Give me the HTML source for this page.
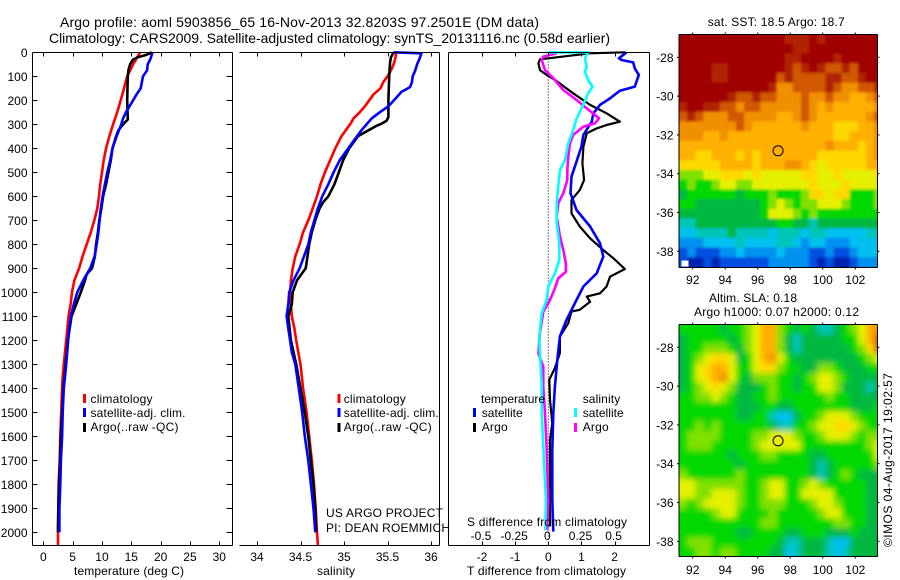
<!DOCTYPE html>
<html>
<head>
<meta charset="utf-8">
<title>Argo profile</title>
<style>
html,body{margin:0;padding:0;background:#fff;}
svg{display:block;font-family:"Liberation Sans",sans-serif;font-size:12px;fill:#000;}
</style>
</head>
<body>
<svg id="chart" width="900" height="580" viewBox="0 0 900 580" xmlns="http://www.w3.org/2000/svg">
  <defs>
    <filter id="soft-sst" filterUnits="userSpaceOnUse" x="640" y="0" width="260" height="300"><feGaussianBlur stdDeviation="1.3"/></filter>
    <filter id="soft-sla" filterUnits="userSpaceOnUse" x="640" y="290" width="260" height="290"><feGaussianBlur stdDeviation="3"/></filter>
  </defs>
  <rect x="0" y="0" width="900" height="580" fill="#fff"/>
  <text x="60" y="27" font-size="14" textLength="479">Argo profile: aoml 5903856_65 16-Nov-2013 32.8203S 97.2501E (DM data)</text>
  <text x="49" y="43" font-size="14" textLength="561">Climatology: CARS2009. Satellite-adjusted climatology: synTS_20131116.nc (0.58d earlier)</text>

  <g id="map1"></g>
  <g id="map2"></g>
  <g id="panel1"></g>
  <g id="panel2"></g>
  <g id="panel3"></g>

  <g>
    <rect x="83" y="394" width="3" height="9" fill="#f00"/>
    <text x="90.5" y="403" textLength="62">climatology</text>
    <rect x="83" y="408" width="3" height="9" fill="#00f"/>
    <text x="90.5" y="417" textLength="95">satellite-adj. clim.</text>
    <rect x="83" y="423" width="3" height="9" fill="#000"/>
    <text x="90.5" y="431" textLength="88">Argo(..raw -QC)</text>
  </g>
  <g>
    <rect x="337.5" y="394" width="3" height="9" fill="#f00"/>
    <text x="343.7" y="403" textLength="62">climatology</text>
    <rect x="337.5" y="408" width="3" height="9" fill="#00f"/>
    <text x="343.7" y="417" textLength="95">satellite-adj. clim.</text>
    <rect x="337.5" y="423" width="3" height="9" fill="#000"/>
    <text x="343.7" y="431" textLength="88">Argo(..raw -QC)</text>
  </g>
  <text x="326" y="517" textLength="117">US ARGO PROJECT</text>
  <text x="326" y="532" textLength="124">PI: DEAN ROEMMICH</text>

  <g>
    <text x="481" y="403" textLength="64">temperature</text>
    <rect x="473" y="408" width="3" height="9" fill="#00f"/>
    <text x="481.7" y="417" textLength="41">satellite</text>
    <rect x="473" y="423" width="3" height="9" fill="#000"/>
    <text x="481.7" y="431" textLength="26">Argo</text>
    <text x="582.7" y="403" textLength="37.5">salinity</text>
    <rect x="574" y="408" width="3" height="9" fill="#0ff"/>
    <text x="582.7" y="417" textLength="41">satellite</text>
    <rect x="574" y="423" width="3" height="9" fill="#f0f"/>
    <text x="582.7" y="431" textLength="26">Argo</text>
  </g>

  <text x="74" y="575" textLength="110">temperature (deg C)</text>
  <text x="317" y="575" textLength="38">salinity</text>
  <text x="467" y="575" textLength="159">T difference from climatology</text>
  <text x="467" y="526" textLength="160">S difference from climatology</text>

  <text x="707.7" y="26" textLength="137">sat. SST: 18.5 Argo: 18.7</text>
  <text x="709" y="302" textLength="88">Altim. SLA: 0.18</text>
  <text x="694" y="316" textLength="165">Argo h1000: 0.07 h2000: 0.12</text>
  <text transform="translate(892,547) rotate(-90)" x="0" y="0" textLength="174">©IMOS 04-Aug-2017 19:02:57</text>
</svg>
<script>
// ---------- chart data ----------
const depthTicks = [0,100,200,300,400,500,600,700,800,900,1000,1100,1200,1300,1400,1500,1600,1700,1800,1900,2000];
const tempTicks = [0,5,10,15,20,25,30];
const salTicks = [34,34.5,35,35.5,36];
const salTickLabels = ['34','34.5','35','35.5','36'];
const tDiffTicks = [-2,-1,0,1,2];
const sDiffTicks = [-0.5,-0.25,0,0.25,0.5];
const sDiffTickLabels = ['-0.5','-0.25','0','0.25','0.5'];
const lonTicks = [92,94,96,98,100,102];
const latTicks = [-28,-30,-32,-34,-36,-38];

const tempClimDepth = [0,50,100,150,200,250,300,350,400,450,500,550,600,650,700,750,800,850,900,950,1000,1050,1100,1150,1200,1250,1300,1350,1400,1500,1600,1700,1800,1900,2000,2054];
const tempClim = [16.5,15.3,14.3,13.75,13.2,12.6,11.9,11.25,10.7,10.3,10,9.7,9.5,9.2,8.7,8.1,7.4,6.7,6.1,5.3,4.9,4.65,4.3,4.1,3.9,3.7,3.5,3.3,3.2,3.05,2.9,2.8,2.6,2.55,2.5,2.5];
const tempSatDepth = [0,25,50,75,100,150,175,200,225,250,275,300,350,400,450,500,550,600,650,700,750,800,850,900,950,1000,1050,1100,1150,1200,1300,1400,1500,1600,1700,1800,1900,2000];
const tempSat = [18.6,18.3,17.8,17.7,17,16.6,15.9,15.3,14.7,14.1,13.6,13.3,12.5,11.8,11.4,10.9,10.5,10.1,9.8,9.6,9.4,9.1,8.75,8,6.8,5.8,5.2,4.7,4.4,4.25,3.9,3.5,3.3,3.2,3,2.9,2.75,2.75];
const tempArgoDepth = [0,10,20,30,50,75,100,200,280,300,325,350,400,450,500,550,600,650,700,750,800,850,900,925,950,1000,1050,1100,1200,1300,1400,1500,1600,1700,1800,1900,2000];
const tempArgo = [18.5,17.6,16.2,15.3,14.8,14.5,14.4,14.3,14.4,13.6,12.8,12.4,11.8,11.5,11.1,10.7,10.2,9.9,9.55,9.3,9,8.8,8.3,7.4,7.1,6.4,5.6,4.8,4.2,3.8,3.4,3.2,3,2.85,2.7,2.55,2.5];

const salClimDepth = [0,25,50,75,100,125,150,175,200,225,250,275,300,350,400,450,500,550,600,650,700,750,800,850,900,950,1000,1050,1100,1150,1200,1250,1300,1400,1500,1600,1700,1800,1900,2000,2054];
const salClim = [35.6,35.59,35.57,35.54,35.5,35.45,35.42,35.34,35.29,35.24,35.18,35.11,35.07,34.97,34.9,34.84,34.78,34.73,34.69,34.64,34.59,34.53,34.49,34.44,34.41,34.39,34.38,34.39,34.4,34.43,34.45,34.475,34.5,34.53,34.57,34.6,34.63,34.655,34.675,34.69,34.7];
const salSatDepth = [0,4,25,50,75,100,125,145,165,190,225,250,275,325,350,400,450,500,550,600,650,700,750,800,850,900,950,1000,1050,1100,1150,1200,1250,1300,1400,1500,1600,1700,1800,1900,2000];
const salSat = [35.57,35.89,35.87,35.84,35.82,35.79,35.78,35.76,35.66,35.6,35.51,35.41,35.32,35.2,35.15,35.05,34.95,34.88,34.82,34.75,34.7,34.66,34.62,34.59,34.54,34.49,34.42,34.37,34.36,34.34,34.36,34.38,34.4,34.44,34.48,34.52,34.55,34.59,34.62,34.65,34.67];
const salArgoDepth = [0,20,40,100,200,270,285,298,305,325,350,400,450,500,550,600,625,650,700,750,800,850,900,925,950,1000,1050,1100,1200,1300,1400,1500,1600,1700,1800,1900,2000];
const salArgo = [35.57,35.54,35.53,35.52,35.51,35.51,35.49,35.43,35.38,35.28,35.16,35.06,34.99,34.94,34.89,34.82,34.76,34.72,34.67,34.63,34.6,34.58,34.56,34.51,34.46,34.41,34.4,34.36,34.39,34.45,34.5,34.55,34.59,34.62,34.65,34.67,34.68];

const tDiffArgoDepth = [0,4,29,46,74,94,115,171,219,254,289,303,317,337,393,462,532,574,615,671,726,775,824,858,903,935,976,1004,1018,1039,1073,1080,1129,1184,1253,1316,1364,1448,1545,1615,1976];
const tDiffArgo = [2.31,1.26,-0.25,-0.3,-0.25,-0.05,0.2,0.75,1.26,1.76,2.16,1.76,1.46,1.16,1.06,1.03,1.08,0.95,0.7,0.7,0.95,1.26,1.66,1.96,2.31,1.86,1.76,1.56,1.16,1.26,0.95,0.7,0.6,0.35,0.35,0.2,0.03,0.05,0.12,0.05,0.05];
const tDiffSatDepth = [0,25,32,42,67,94,143,160,192,219,254,289,344,393,456,518,587,657,726,796,851,921,976,1032,1115,1184,1282,1393,1504,1657,1865,1997];
const tDiffSat = [2.36,2.13,2.21,2.56,2.61,2.73,2.61,2.16,1.86,1.56,1.36,1.31,1.06,1,0.85,0.7,0.67,0.85,1.26,1.56,1.66,1.46,1.06,0.85,0.55,0.35,0.27,0.2,0.15,0.12,0.12,0.15];
const sDiffSatDepth = [0,1,25,60,81,115,143,171,219,275,324,379,449,490,560,629,712,796,865,921,976,1032,1088,1184,1254,1379,1504,1643,1865,1990];
const sDiffSat = [0,0.3,0.276,0.289,0.276,0.3,0.334,0.3,0.264,0.214,0.188,0.151,0.126,0.088,0.075,0.063,0.063,0.083,0.083,0.05,0,-0.013,-0.05,-0.068,-0.063,-0.05,-0.05,-0.038,-0.018,-0.023];
const sDiffArgoDepth = [4,18,32,74,108,157,199,233,275,296,310,344,379,435,490,532,587,629,685,768,824,879,914,942,983,1032,1081,1171,1254,1310,1393,1504,1643,1865,1990];
const sDiffArgo = [0.063,-0.038,-0.05,-0.025,0.038,0.113,0.214,0.289,0.382,0.352,0.264,0.188,0.163,0.151,0.143,0.143,0.113,0.075,0.063,0.088,0.113,0.133,0.133,0.075,0.05,0.013,-0.038,-0.063,-0.075,-0.038,-0.038,-0.025,-0.013,0,-0.008];

const profileLon = [97.25];
const profileLat = [-32.82];

// map cell values: rows north to south, columns west to east, half degree cells
const sstGrid = [
[14,14,14,14,14,14,14,14,14,14,14,14,14,13,13,13,14,13,14,14,14,14,14,14,14],
[14,14,14,14,14,14,14,14,14,14,14,14,14,14,13,13,14,14,14,14,14,14,14,14,14],
[14,14,14,14,14,14,14,14,14,14,14,14,14,13,13,14,14,14,14,13,14,14,14,14,14],
[14,14,14,14,13,13,14,14,14,14,14,14,14,13,12,13,14,13,12,12,13,12,14,14,14],
[14,14,14,14,13,13,14,14,14,14,14,14,12,13,12,12,12,12,13,13,12,12,13,14,14],
[14,14,14,14,14,14,14,14,14,14,14,13,11,11,12,12,12,12,13,12,11,11,12,12,13],
[14,14,14,14,14,14,13,12,12,13,12,12,11,11,11,12,11,11,12,11,11,10,10,11,12],
[13,14,14,13,13,12,12,11,12,12,11,11,11,11,11,12,11,10,11,10,10,10,10,10,11],
[12,13,12,11,11,11,12,12,11,11,11,11,10,10,11,12,11,10,10,10,10,10,10,11,12],
[11,11,11,11,11,11,11,12,11,10,10,10,10,10,10,11,10,10,10,9,9,9,10,10,11],
[11,11,11,10,10,11,10,10,10,10,10,10,10,10,10,10,10,10,10,9,9,10,10,10,11],
[10,10,10,10,10,10,10,10,10,10,10,10,10,10,10,10,10,10,11,10,10,10,9,10,11],
[10,10,9,9,10,10,10,9,10,9,10,10,10,10,10,10,10,9,9,9,9,9,9,10,11],
[9,9,9,9,9,10,10,10,10,9,10,10,10,11,11,10,9,8,9,9,9,9,9,10,10],
[7,7,7,8,8,9,9,9,8,9,8,8,8,8,8,9,9,8,8,9,8,8,8,8,9],
[6,7,6,6,7,8,8,7,7,8,8,8,8,8,8,8,9,8,8,8,9,8,8,8,8],
[5,6,6,6,6,6,6,5,6,6,6,7,6,6,6,7,9,9,8,9,9,6,6,6,7],
[6,6,5,5,5,5,5,5,5,5,6,7,8,7,6,7,7,8,8,8,7,6,6,6,7],
[5,5,5,5,5,5,5,5,5,5,6,8,8,8,7,6,7,6,6,6,6,6,6,6,6],
[4,4,5,5,5,5,5,5,5,5,5,5,6,6,5,5,4,5,5,5,5,5,5,5,5],
[3,3,4,4,4,4,5,4,4,4,4,3,4,4,4,3,4,4,3,3,3,3,3,4,4],
[2,2,2,3,3,3,3,4,3,3,3,3,4,4,3,2,3,3,2,2,2,3,3,3,3],
[1,2,1,1,1,2,2,3,2,2,2,2,3,2,2,2,1,1,2,1,1,2,3,3,3],
[1,0,0,1,0,1,1,1,1,1,1,2,2,2,2,2,1,0,1,0,0,1,2,2,2]
];
const slaGrid = [
[6,6,6,6,6,5,6,6,7,8,10,10,7,6,5,6,5,4,4,5,6,7,8,10,11],
[5,6,6,6,6,6,5,6,7,8,10,10,7,5,4,5,5,5,5,5,6,6,8,10,12],
[5,6,6,7,7,7,6,5,7,8,10,10,7,5,4,5,5,5,5,5,5,6,7,9,12],
[5,6,7,8,9,9,8,5,6,8,10,11,8,6,5,5,5,5,5,5,5,5,6,7,8],
[5,6,8,9,10,10,8,6,6,8,9,9,7,6,6,5,5,7,7,6,5,5,5,6,6],
[5,6,8,9,10,11,8,6,5,7,7,7,6,6,5,6,7,8,8,7,6,5,5,5,5],
[5,6,7,8,9,8,7,5,5,5,6,7,6,6,5,6,6,8,8,7,5,5,5,4,5],
[6,6,7,7,8,7,6,5,5,6,6,7,6,6,6,6,6,6,7,6,6,5,5,5,5],
[6,6,6,6,6,6,6,5,5,5,6,6,5,5,6,6,6,6,6,6,6,5,5,5,6],
[6,6,6,6,6,6,6,5,5,6,6,4,3,3,5,6,6,7,8,8,8,7,6,6,6],
[6,6,7,6,7,6,6,6,6,6,6,5,4,4,6,6,7,8,8,9,9,8,7,6,6],
[6,7,7,7,7,6,6,6,6,7,7,8,8,8,7,6,6,7,8,8,8,7,6,7,7],
[6,7,7,7,6,6,6,6,6,7,8,8,8,8,8,6,6,6,6,6,6,6,6,7,8],
[6,6,6,6,6,6,5,6,6,6,7,7,6,6,6,6,5,5,6,6,6,6,6,6,8],
[6,6,6,6,6,6,6,5,6,6,6,6,6,6,6,6,5,4,5,6,6,6,6,6,7],
[7,6,6,6,6,6,6,7,6,6,6,6,6,6,6,6,5,4,5,6,7,6,5,5,5],
[8,8,7,7,7,7,7,7,6,6,7,8,8,6,6,7,8,7,6,6,6,6,6,5,5],
[8,8,7,7,8,8,8,7,6,6,7,8,8,6,6,8,8,8,8,6,6,6,6,5,5],
[7,6,7,8,8,8,8,7,6,6,7,7,7,6,6,6,7,8,8,7,6,6,6,5,5],
[6,6,6,6,7,8,8,6,6,6,6,7,6,6,6,6,6,7,8,8,6,6,6,5,5],
[6,6,6,6,6,6,6,6,6,6,7,7,6,6,6,6,6,6,6,7,7,6,6,5,5],
[6,6,6,6,6,6,6,5,5,6,6,6,6,5,5,6,6,6,5,5,5,6,5,5,5],
[6,7,7,7,6,6,6,6,6,6,6,6,5,4,4,5,5,5,4,3,3,5,5,5,5],
[6,6,7,7,6,7,7,6,6,6,6,5,5,3,4,5,5,5,4,3,4,5,5,5,5]
];
const levelColors = ['#0020b0','#0050e0','#0090f0','#00c0f0','#00c4b8','#00b840','#00d800','#80e000','#e4f000','#ffd800','#ffb000','#f09000','#d05800','#b02000','#a00000'];

// ---------- axis functions ----------
const depthY = d => 52.3 + d * 0.24;
const tempX = t => 43.3 + t * 5.867;
const salX = s => 257 + (s - 34) * 87;
const tDiffX = t => 548.3 + t * 33.15;
const sDiffX = s => 548.3 + s * 132.6;
const lonX = lon => 692.7 + (lon - 92) * 16.26;
const map1LatY = lat => 57.3 + (-28 - lat) * 19.4;
const map2LatY = lat => 347.3 + (-28 - lat) * 19.4;

const NS = 'http://www.w3.org/2000/svg';
function make(tag, parent, props) {
  const el = document.createElementNS(NS, tag);
  for (const k in props) el.setAttribute(k, props[k]);
  parent.appendChild(el);
  return el;
}
function seg(parent, x1, y1, x2, y2) {
  return make('line', parent, {x1, y1, x2, y2, stroke: '#000', 'stroke-width': 1});
}
function drawLine(parent, depths, values, xFn, color, width, name) {
  const pts = values.map((v, i) => xFn(v).toFixed(1) + ',' + depthY(depths[i]).toFixed(1)).join(' ');
  const el = make('polyline', parent, {points: pts, fill: 'none', stroke: color, 'stroke-width': width, 'stroke-linejoin': 'round'});
  
  
}
function drawFrame(parent, l, t, r, b, hasLeft) {
  const edges = [[l, t, r, t, 'top'], [l, b, r, b, 'bottom'], [r, t, r, b, 'right']];
  if (hasLeft) edges.push([l, t, l, b, 'left']);
  edges.forEach(e => {
    const el = seg(parent, e[0], e[1], e[2], e[3]);
    
    
  });
}
function drawXTicks(parent, ticks, labels, xFn, t, b, labelY, name) {
  ticks.forEach((v, i) => {
    const x = Math.round(xFn(v)) + 0.5;
    const a = seg(parent, x, t, x, t + 4);
    
    
    const c = seg(parent, x, b - 4, x, b);
    
    
    const txt = make('text', parent, {x: xFn(v), y: labelY, 'text-anchor': 'middle'});
    txt.textContent = labels[i];
    
    
  });
}

// ---------- panel 1: temperature ----------
const p1 = document.getElementById('panel1');
drawLine(p1, tempClimDepth, tempClim, tempX, '#f00', 2.6, 'temperature-climatology-line');
drawLine(p1, tempArgoDepth, tempArgo, tempX, '#000', 2.6, 'temperature-argo-line');
drawLine(p1, tempSatDepth, tempSat, tempX, '#00f', 2.6, 'temperature-satellite-line');
drawFrame(p1, 32.5, 52.5, 232.5, 545.5, true);
drawXTicks(p1, tempTicks, tempTicks.map(String), tempX, 52.5, 545.5, 561, 'temperature-axis');
depthTicks.forEach(d => {
  const y = Math.round(depthY(d)) + 0.5;
  const a = seg(p1, 32.5, y, 37.5, y);
  
  
  const b = seg(p1, 226.5, y, 232.5, y);
  
  
  const txt = make('text', p1, {x: 27.5, y: depthY(d) + 4.5, 'text-anchor': 'end'});
  txt.textContent = String(d);
  
  
});

// ---------- panel 2: salinity ----------
const p2 = document.getElementById('panel2');
drawLine(p2, salClimDepth, salClim, salX, '#f00', 2.6, 'salinity-climatology-line');
drawLine(p2, salArgoDepth, salArgo, salX, '#000', 2.6, 'salinity-argo-line');
drawLine(p2, salSatDepth, salSat, salX, '#00f', 2.6, 'salinity-satellite-line');
drawFrame(p2, 239.5, 52.5, 439.5, 545.5, false);
drawXTicks(p2, salTicks, salTickLabels, salX, 52.5, 545.5, 561, 'salinity-axis');

// ---------- panel 3: differences ----------
const p3 = document.getElementById('panel3');
const zero = make('line', p3, {x1: tDiffX(0), y1: 52.5, x2: tDiffX(0), y2: 545.5, stroke: '#000', 'stroke-width': 1, 'stroke-dasharray': '1 2'});


drawLine(p3, tDiffArgoDepth, tDiffArgo, tDiffX, '#000', 2.2, 't-difference-argo-line');
drawLine(p3, tDiffSatDepth, tDiffSat, tDiffX, '#00f', 2.6, 't-difference-satellite-line');
drawLine(p3, sDiffArgoDepth, sDiffArgo, sDiffX, '#f0f', 2.6, 's-difference-argo-line');
drawLine(p3, sDiffSatDepth, sDiffSat, sDiffX, '#0ff', 2.6, 's-difference-satellite-line');
drawFrame(p3, 448.5, 52.5, 649.5, 545.5, true);
drawXTicks(p3, tDiffTicks, tDiffTicks.map(String), tDiffX, 52.5, 545.5, 561, 't-difference-axis');
sDiffTicks.forEach((v, i) => {
  const txt = make('text', p3, {x: sDiffX(v) - 1, y: 540, 'text-anchor': 'middle'});
  txt.textContent = sDiffTickLabels[i];
  
  
});

// ---------- maps ----------
const WEST = 91.16, NORTH = -26.81, STEP = 0.5;
function drawMap(group, grid, latY, top, bottom, labelY, clipId, softId) {
  const l = 679, r = 877.5;
  const defs = make('defs', group, {});
  const cp = make('clipPath', defs, {id: clipId});
  make('rect', cp, {x: l, y: top, width: r - l, height: bottom - top});
  const clipped = make('g', group, {'clip-path': 'url(#' + clipId + ')'});
  
  
  const cells = make('g', clipped, {filter: 'url(#' + softId + ')'});
  
  
  const lastRow = grid.length - 1;
  grid.forEach((row, i) => {
    const lastCol = row.length - 1;
    row.forEach((v, j) => {
      // outermost cells bleed past the clip so softening never fades at the frame
      const x0 = lonX(WEST + j * STEP) - (j === 0 ? 12 : 0);
      const x1 = lonX(WEST + (j + 1) * STEP) + (j === lastCol ? 12 : 0);
      const y0 = latY(NORTH - i * STEP) - (i === 0 ? 12 : 0);
      const y1 = latY(NORTH - (i + 1) * STEP) + (i === lastRow ? 12 : 0);
      const c = make('rect', cells, {x: x0.toFixed(1), y: y0.toFixed(1), width: (x1 - x0 + 0.6).toFixed(1), height: (y1 - y0 + 0.6).toFixed(1), fill: levelColors[v]});
      
      
    });
  });
  drawFrame(group, l, top, r, bottom, true);
  lonTicks.forEach(v => {
    const x = lonX(v);
    const a = seg(group, x, top - 2, x, top);
    
    
    const b = seg(group, x, bottom, x, bottom + 2);
    
    
    const txt = make('text', group, {x: x, y: labelY, 'text-anchor': 'middle'});
    txt.textContent = String(v);
    
    
  });
  latTicks.forEach(v => {
    const y = latY(v);
    const a = seg(group, l - 2, y, l, y);
    
    
    const b = seg(group, r, y, r + 2, y);
    
    
    const txt = make('text', group, {x: 673.5, y: y + 4.5, 'text-anchor': 'end'});
    txt.textContent = String(v);
    
    
  });
  const m = make('circle', group, {cx: lonX(profileLon[0]), cy: latY(profileLat[0]), r: 5, fill: 'none', stroke: '#000', 'stroke-width': 1});
  
  
}
const map1 = document.getElementById('map1');
drawMap(map1, sstGrid, map1LatY, 34.5, 267.5, 284, 'clip-map1', 'soft-sst');
const patch = make('rect', map1, {x: 681.5, y: 260.5, width: 7, height: 6, fill: '#fff'});


drawMap(document.getElementById('map2'), slaGrid, map2LatY, 324.5, 556.5, 574, 'clip-map2', 'soft-sla');
</script>
</body>
</html>
